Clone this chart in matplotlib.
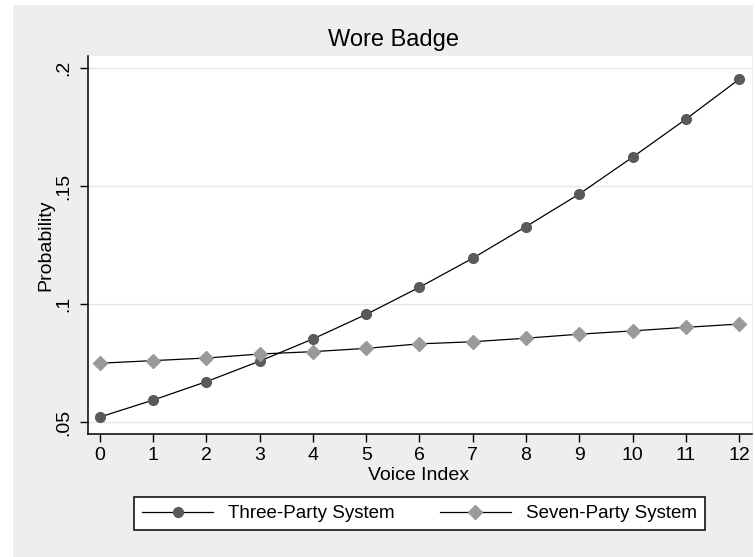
import matplotlib
matplotlib.use("Agg")
import matplotlib.pyplot as plt
from matplotlib.patches import Rectangle

# data
voice_index = list(range(13))
three_party = [0.0521, 0.0593, 0.0671, 0.0758, 0.0852, 0.0956, 0.1071,
               0.1194, 0.1328, 0.1466, 0.1622, 0.1783, 0.1952]
seven_party = [0.0749, 0.0760, 0.0771, 0.0788, 0.0798, 0.0812, 0.0831,
               0.0840, 0.0855, 0.0872, 0.0886, 0.0901, 0.0915]
y_ticks = [0.05, 0.1, 0.15, 0.2]
y_labels = [".05", ".1", ".15", ".2"]

plt.rcParams['font.family'] = ['Liberation Sans', 'DejaVu Sans']

W, H = 755, 557
fig = plt.figure(figsize=(W / 100, H / 100), dpi=100, facecolor='white')

# light gray graph region, behind the axes
fig.patches.append(Rectangle((13 / W, 0), 740 / W, (H - 5) / H,
                             transform=fig.transFigure, facecolor='#eeeeee',
                             edgecolor='none', zorder=-10))

ax = fig.add_axes([88 / W, (H - 434) / H, 664 / W, 378 / H])
ax.set_facecolor('white')

ax.plot(voice_index, three_party, color='black', linewidth=0.9,
        marker='o', markersize=7, markerfacecolor='#5a5a5a',
        markeredgecolor='#5a5a5a', label='Three-Party System', zorder=3)
ax.plot(voice_index, seven_party, color='black', linewidth=0.9,
        marker='D', markersize=7.5, markerfacecolor='#9a9a9a',
        markeredgecolor='#9a9a9a', label='Seven-Party System', zorder=3)

ax.set_xlim(-0.225, 12.244)
ax.set_ylim(0.0449, 0.2051)
ax.set_xticks(voice_index)
ax.set_yticks(y_ticks)
ax.set_yticklabels(y_labels, rotation=90, va='center')
ax.tick_params(axis='both', labelsize=14, length=6, width=1, direction='out',
               colors='black')
ax.tick_params(axis='x', pad=3.5)
ax.tick_params(axis='y', pad=5)
ax.grid(axis='y', color='#e6e6e6', linewidth=1)
ax.set_axisbelow(True)

for side in ['top', 'right']:
    ax.spines[side].set_visible(False)
for side in ['left', 'bottom']:
    ax.spines[side].set_linewidth(1.1)

ax.set_ylabel("Probability", fontsize=14)
ax.set_xlabel("Voice Index", fontsize=14)
ax.yaxis.set_label_coords(-0.05, 0.5)
ax.xaxis.set_label_coords(0.497, -0.087)

fig.text(394 / W, 1 - 40 / H, "Wore Badge", fontsize=17, ha='center',
         va='center')

leg = ax.legend(loc='center', bbox_to_anchor=(419.5 / W, 1 - 513.5 / H),
                bbox_transform=fig.transFigure, ncol=2, fontsize=13.5,
                frameon=True, fancybox=False, edgecolor='black',
                handlelength=3.8, handletextpad=0.8, columnspacing=2.4,
                borderpad=0.4, borderaxespad=0)
leg.get_frame().set_linewidth(1.1)
leg.get_frame().set_facecolor('white')
leg.get_frame().set_alpha(1)

fig.savefig("out.png", dpi=100)
